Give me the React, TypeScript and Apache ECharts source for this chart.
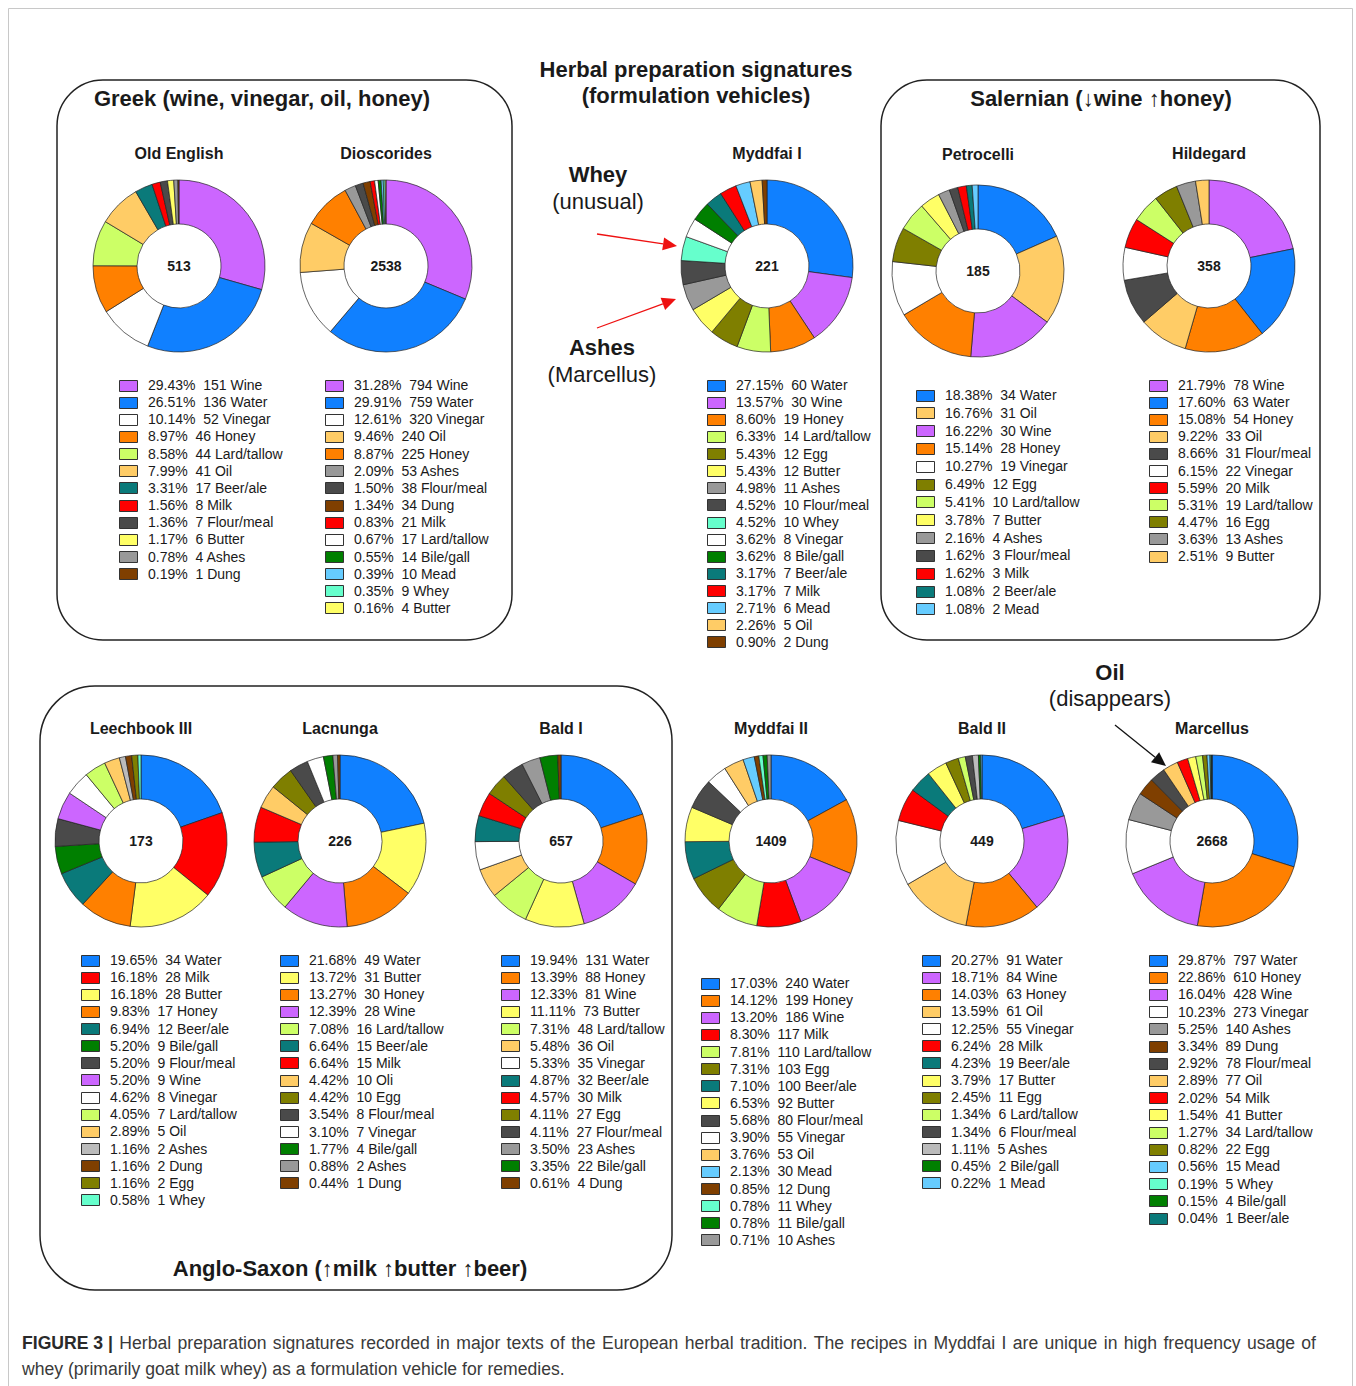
import React, { useEffect, useRef } from "react";
import * as echarts from "echarts";

// ---------- colours per ingredient ----------
const COLORS: Record<string, string> = {
  Water: "#1080FF",
  Wine: "#CC66FF",
  Vinegar: "#FFFFFF",
  Honey: "#FF8000",
  "Lard/tallow": "#CCFF66",
  Oil: "#FFCC66",
  Oli: "#FFCC66",
  "Beer/ale": "#0A7A7A",
  Milk: "#FF0000",
  "Flour/meal": "#4A4A4A",
  Butter: "#FFFF66",
  Ashes: "#999999",
  Dung: "#7F3F00",
  "Bile/gall": "#007F00",
  Mead: "#66CCFF",
  Whey: "#66FFCC",
  Egg: "#7F7F00",
};

// ---------- data ----------
const oldEnglishNames = ["Wine", "Water", "Vinegar", "Honey", "Lard/tallow", "Oil", "Beer/ale", "Milk", "Flour/meal", "Butter", "Ashes", "Dung"];
const oldEnglishCounts = [151, 136, 52, 46, 44, 41, 17, 8, 7, 6, 4, 1];
const oldEnglishPcts = ["29.43", "26.51", "10.14", "8.97", "8.58", "7.99", "3.31", "1.56", "1.36", "1.17", "0.78", "0.19"];

const dioscoridesNames = ["Wine", "Water", "Vinegar", "Oil", "Honey", "Ashes", "Flour/meal", "Dung", "Milk", "Lard/tallow", "Bile/gall", "Mead", "Whey", "Butter"];
const dioscoridesCounts = [794, 759, 320, 240, 225, 53, 38, 34, 21, 17, 14, 10, 9, 4];
const dioscoridesPcts = ["31.28", "29.91", "12.61", "9.46", "8.87", "2.09", "1.50", "1.34", "0.83", "0.67", "0.55", "0.39", "0.35", "0.16"];

const myddfai1Names = ["Water", "Wine", "Honey", "Lard/tallow", "Egg", "Butter", "Ashes", "Flour/meal", "Whey", "Vinegar", "Bile/gall", "Beer/ale", "Milk", "Mead", "Oil", "Dung"];
const myddfai1Counts = [60, 30, 19, 14, 12, 12, 11, 10, 10, 8, 8, 7, 7, 6, 5, 2];
const myddfai1Pcts = ["27.15", "13.57", "8.60", "6.33", "5.43", "5.43", "4.98", "4.52", "4.52", "3.62", "3.62", "3.17", "3.17", "2.71", "2.26", "0.90"];

const petrocelliNames = ["Water", "Oil", "Wine", "Honey", "Vinegar", "Egg", "Lard/tallow", "Butter", "Ashes", "Flour/meal", "Milk", "Beer/ale", "Mead"];
const petrocelliCounts = [34, 31, 30, 28, 19, 12, 10, 7, 4, 3, 3, 2, 2];
const petrocelliPcts = ["18.38", "16.76", "16.22", "15.14", "10.27", "6.49", "5.41", "3.78", "2.16", "1.62", "1.62", "1.08", "1.08"];

const hildegardNames = ["Wine", "Water", "Honey", "Oil", "Flour/meal", "Vinegar", "Milk", "Lard/tallow", "Egg", "Ashes", "Butter"];
const hildegardCounts = [78, 63, 54, 33, 31, 22, 20, 19, 16, 13, 9];
const hildegardPcts = ["21.79", "17.60", "15.08", "9.22", "8.66", "6.15", "5.59", "5.31", "4.47", "3.63", "2.51"];

const leechbookNames = ["Water", "Milk", "Butter", "Honey", "Beer/ale", "Bile/gall", "Flour/meal", "Wine", "Vinegar", "Lard/tallow", "Oil", "Ashes", "Dung", "Egg", "Whey"];
const leechbookCounts = [34, 28, 28, 17, 12, 9, 9, 9, 8, 7, 5, 2, 2, 2, 1];
const leechbookPcts = ["19.65", "16.18", "16.18", "9.83", "6.94", "5.20", "5.20", "5.20", "4.62", "4.05", "2.89", "1.16", "1.16", "1.16", "0.58"];

const lacnungaNames = ["Water", "Butter", "Honey", "Wine", "Lard/tallow", "Beer/ale", "Milk", "Oli", "Egg", "Flour/meal", "Vinegar", "Bile/gall", "Ashes", "Dung"];
const lacnungaCounts = [49, 31, 30, 28, 16, 15, 15, 10, 10, 8, 7, 4, 2, 1];
const lacnungaPcts = ["21.68", "13.72", "13.27", "12.39", "7.08", "6.64", "6.64", "4.42", "4.42", "3.54", "3.10", "1.77", "0.88", "0.44"];

const bald1Names = ["Water", "Honey", "Wine", "Butter", "Lard/tallow", "Oil", "Vinegar", "Beer/ale", "Milk", "Egg", "Flour/meal", "Ashes", "Bile/gall", "Dung"];
const bald1Counts = [131, 88, 81, 73, 48, 36, 35, 32, 30, 27, 27, 23, 22, 4];
const bald1Pcts = ["19.94", "13.39", "12.33", "11.11", "7.31", "5.48", "5.33", "4.87", "4.57", "4.11", "4.11", "3.50", "3.35", "0.61"];

const myddfai2Names = ["Water", "Honey", "Wine", "Milk", "Lard/tallow", "Egg", "Beer/ale", "Butter", "Flour/meal", "Vinegar", "Oil", "Mead", "Dung", "Whey", "Bile/gall", "Ashes"];
const myddfai2Counts = [240, 199, 186, 117, 110, 103, 100, 92, 80, 55, 53, 30, 12, 11, 11, 10];
const myddfai2Pcts = ["17.03", "14.12", "13.20", "8.30", "7.81", "7.31", "7.10", "6.53", "5.68", "3.90", "3.76", "2.13", "0.85", "0.78", "0.78", "0.71"];

const bald2Names = ["Water", "Wine", "Honey", "Oil", "Vinegar", "Milk", "Beer/ale", "Butter", "Egg", "Lard/tallow", "Flour/meal", "Ashes", "Bile/gall", "Mead"];
const bald2Counts = [91, 84, 63, 61, 55, 28, 19, 17, 11, 6, 6, 5, 2, 1];
const bald2Pcts = ["20.27", "18.71", "14.03", "13.59", "12.25", "6.24", "4.23", "3.79", "2.45", "1.34", "1.34", "1.11", "0.45", "0.22"];

const marcellusNames = ["Water", "Honey", "Wine", "Vinegar", "Ashes", "Dung", "Flour/meal", "Oil", "Milk", "Butter", "Lard/tallow", "Egg", "Mead", "Whey", "Bile/gall", "Beer/ale"];
const marcellusCounts = [797, 610, 428, 273, 140, 89, 78, 77, 54, 41, 34, 22, 15, 5, 4, 1];
const marcellusPcts = ["29.87", "22.86", "16.04", "10.23", "5.25", "3.34", "2.92", "2.89", "2.02", "1.54", "1.27", "0.82", "0.56", "0.19", "0.15", "0.04"];

const totals = [513, 2538, 221, 185, 358, 173, 226, 657, 1409, 449, 2668];
const chartTitles = ["Old English", "Dioscorides", "Myddfai I", "Petrocelli", "Hildegard", "Leechbook III", "Lacnunga", "Bald I", "Myddfai II", "Bald II", "Marcellus"];

const captionLine1Words = "Herbal preparation signatures recorded in major texts of the European herbal tradition. The recipes in Myddfai I are unique in high frequency usage of".split(" ");
const captionLine2 = "whey (primarily goat milk whey) as a formulation vehicle for remedies.";

// colour quirks of the original figure (name -> colour per chart)
const colorOverrides: Record<string, Record<string, string>> = {
  Dioscorides: { "Lard/tallow": "#FFFFFF" },
  Hildegard: { Butter: "#FFCC66" },
  "Leechbook III": { Ashes: "#BBBBBB" },
  "Bald II": { Ashes: "#BBBBBB" },
};

// ---------- layout ----------
const FONT = "'Liberation Sans', Arial, Helvetica, sans-serif";
type Layout = { cx: number; cy: number; ty: number; lx: number; ly: number; step: number };
const layouts: Layout[] = [
  { cx: 179, cy: 266, ty: 153, lx: 119, ly: 385, step: 17.15 },
  { cx: 386, cy: 266, ty: 153, lx: 325, ly: 385, step: 17.15 },
  { cx: 767, cy: 266, ty: 153, lx: 707, ly: 385, step: 17.13 },
  { cx: 978, cy: 271, ty: 154, lx: 916, ly: 395, step: 17.83 },
  { cx: 1209, cy: 266, ty: 153, lx: 1149, ly: 385, step: 17.1 },
  { cx: 141, cy: 841, ty: 728, lx: 81, ly: 960, step: 17.14 },
  { cx: 340, cy: 841, ty: 728, lx: 280, ly: 960, step: 17.15 },
  { cx: 561, cy: 841, ty: 728, lx: 501, ly: 960, step: 17.15 },
  { cx: 771, cy: 841, ty: 728, lx: 701, ly: 983, step: 17.13 },
  { cx: 982, cy: 841, ty: 728, lx: 922, ly: 960, step: 17.15 },
  { cx: 1212, cy: 841, ty: 728, lx: 1149, ly: 960, step: 17.2 },
];

const datasets = [
  [oldEnglishNames, oldEnglishCounts, oldEnglishPcts],
  [dioscoridesNames, dioscoridesCounts, dioscoridesPcts],
  [myddfai1Names, myddfai1Counts, myddfai1Pcts],
  [petrocelliNames, petrocelliCounts, petrocelliPcts],
  [hildegardNames, hildegardCounts, hildegardPcts],
  [leechbookNames, leechbookCounts, leechbookPcts],
  [lacnungaNames, lacnungaCounts, lacnungaPcts],
  [bald1Names, bald1Counts, bald1Pcts],
  [myddfai2Names, myddfai2Counts, myddfai2Pcts],
  [bald2Names, bald2Counts, bald2Pcts],
  [marcellusNames, marcellusCounts, marcellusPcts],
] as [string[], number[], string[]][];

function colorFor(chart: string, name: string) {
  const o = colorOverrides[chart];
  if (o && o[name]) return o[name];
  return COLORS[name] || "#ccc";
}

function arrow(x1: number, y1: number, x2: number, y2: number, color: string, head = 14, hw = 6.5) {
  const dx = x2 - x1, dy = y2 - y1;
  const len = Math.sqrt(dx * dx + dy * dy);
  const ux = dx / len, uy = dy / len;
  const bx = x2 - ux * head, by = y2 - uy * head;
  const px = -uy, py = ux;
  return [
    { type: "line", shape: { x1, y1, x2: bx, y2: by }, style: { stroke: color, lineWidth: 1.3 } },
    {
      type: "polygon",
      shape: { points: [[x2, y2], [bx + px * hw, by + py * hw], [bx - px * hw, by - py * hw]] },
      style: { fill: color },
    },
  ];
}

function text(x: number, y: number, t: string, size: number, weight: string, align = "center", color = "#1a1a1a") {
  return {
    type: "text",
    x,
    y,
    style: { text: t, fontSize: size, fontWeight: weight, fontFamily: FONT, fill: color, align, verticalAlign: "middle" },
  };
}

function measure(t: string, font: string) {
  const c = document.createElement("canvas").getContext("2d") as CanvasRenderingContext2D;
  c.font = font;
  return c.measureText(t).width;
}

function buildOption() {
  const series: any[] = [];
  const graphic: any[] = [];

  // frames
  graphic.push({ type: "rect", shape: { x: 8.5, y: 8.5, width: 1344, height: 1400 }, style: { fill: "none", stroke: "#c8c8c8", lineWidth: 1 } });
  graphic.push({ type: "rect", shape: { x: 57, y: 80, width: 455, height: 560, r: 46 }, style: { fill: "none", stroke: "#222", lineWidth: 1.5 } });
  graphic.push({ type: "rect", shape: { x: 881, y: 80, width: 439, height: 560, r: 46 }, style: { fill: "none", stroke: "#222", lineWidth: 1.5 } });
  graphic.push({ type: "rect", shape: { x: 40, y: 686, width: 632, height: 604, r: 55 }, style: { fill: "none", stroke: "#222", lineWidth: 1.5 } });

  // headings
  graphic.push(text(262, 98, "Greek (wine, vinegar, oil, honey)", 22, "bold"));
  graphic.push(text(696, 69, "Herbal preparation signatures", 22, "bold"));
  graphic.push(text(696, 95, "(formulation vehicles)", 22, "bold"));
  graphic.push(text(1101, 98, "Salernian (\u2193wine \u2191honey)", 22, "bold"));
  graphic.push(text(350, 1268, "Anglo-Saxon (\u2191milk \u2191butter \u2191beer)", 22, "bold"));

  // annotations
  graphic.push(text(598, 174, "Whey", 22, "bold"));
  graphic.push(text(598, 201, "(unusual)", 22, "normal"));
  graphic.push(text(602, 347, "Ashes", 22, "bold"));
  graphic.push(text(602, 374, "(Marcellus)", 22, "normal"));
  graphic.push(text(1110, 672, "Oil", 22, "bold"));
  graphic.push(text(1110, 698, "(disappears)", 22, "normal"));
  graphic.push(...arrow(597, 234, 677, 246, "#EE1111"));
  graphic.push(...arrow(597, 328, 676, 299, "#EE1111"));
  graphic.push(...arrow(1115, 725, 1166, 766, "#111"));

  datasets.forEach(([names, counts, pcts], i) => {
    const L = layouts[i];
    const title = chartTitles[i];
    series.push({
      type: "pie",
      name: title,
      center: [L.cx, L.cy],
      radius: [42, 86],
      startAngle: 90,
      clockwise: true,
      silent: true,
      label: { show: false },
      labelLine: { show: false },
      emphasis: { disabled: true },
      itemStyle: { borderColor: "#222", borderWidth: 0.7 },
      data: names.map((n, k) => ({ name: n, value: counts[k], itemStyle: { color: colorFor(title, n) } })),
    });
    graphic.push(text(L.cx, L.ty, title, 16, "bold"));
    graphic.push(text(L.cx, L.cy, String(totals[i]), 14, "bold"));
    names.forEach((n, k) => {
      const y = L.ly + k * L.step;
      graphic.push({
        type: "rect",
        shape: { x: L.lx + 0.5, y: Math.round(y - 5.5) + 0.5, width: 18, height: 11 },
        style: { fill: colorFor(title, n), stroke: "#333", lineWidth: 1 },
      });
      graphic.push(text(L.lx + 29, y, `${pcts[k]}%  ${counts[k]} ${n}`, 14, "normal", "left", "#1a1a1a"));
    });
  });

  // caption (first line justified between x=22 and x=1316)
  const CAP = 17.6;
  const capColor = "#3a3a3a";
  const boldLabel = "FIGURE 3 |";
  const boldFont = `bold ${CAP}px ${FONT}`;
  const normFont = `${CAP}px ${FONT}`;
  const wBold = measure(boldLabel, boldFont);
  const wordsW = captionLine1Words.map((w) => measure(w, normFont));
  const totalW = wBold + wordsW.reduce((a, b) => a + b, 0);
  const gap = (1316 - 22 - totalW) / captionLine1Words.length;
  graphic.push({
    type: "text", x: 22, y: 1343,
    style: { text: boldLabel, fontSize: CAP, fontWeight: "bold", fontFamily: FONT, fill: "#2a2a2a", verticalAlign: "middle" },
  });
  let cx = 22 + wBold + gap;
  captionLine1Words.forEach((w, k) => {
    graphic.push({
      type: "text", x: cx, y: 1343,
      style: { text: w, fontSize: CAP, fontFamily: FONT, fill: capColor, verticalAlign: "middle" },
    });
    cx += wordsW[k] + gap;
  });
  graphic.push(text(22, 1369, captionLine2, CAP, "normal", "left", capColor));

  return { animation: false, backgroundColor: "#fff", series, graphic };
}

export default function App() {
  const ref = useRef<HTMLDivElement>(null);
  useEffect(() => {
    document.body.style.margin = "0";
    const chart = echarts.init(ref.current as HTMLDivElement, null, { renderer: "svg" });
    chart.setOption(buildOption() as any);
    return () => chart.dispose();
  }, []);
  return <div ref={ref} style={{ width: 1356, height: 1386, background: "#fff" }} />;
}
